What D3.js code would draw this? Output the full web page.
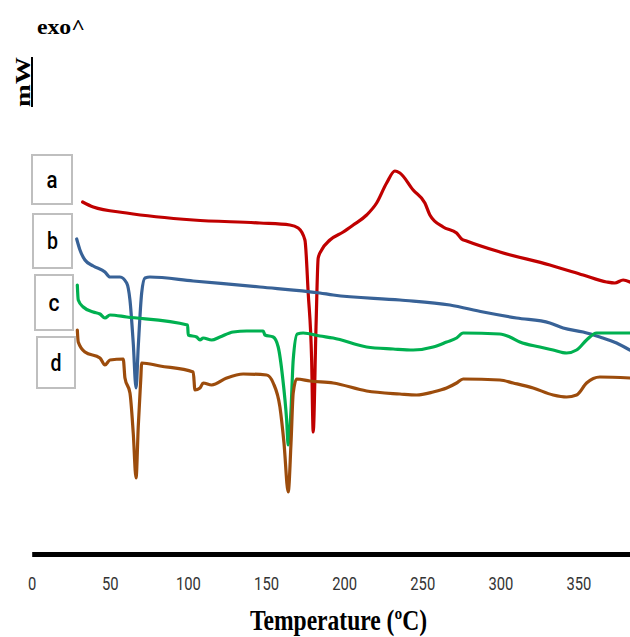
<!DOCTYPE html>
<html>
<head>
<meta charset="utf-8">
<script src="https://cdn.jsdelivr.net/npm/d3@7"></script>
<style>
  body { margin: 0; background: #fff; }
  svg { display: block; }
</style>
</head>
<body>
<svg id="chart" width="630" height="637"></svg>
<script>
// temperature (°C) and heat flow (arbitrary mW, curves offset)
const redT   = [32.6, 39.4, 60.8, 103.4, 146.1, 165.3, 170.6, 174.9, 177.0, 179.2, 180.2, 182.0, 183.4, 185.6, 190.9, 199.4, 205.8, 214.4, 220.8, 227.2, 232.5, 235.7, 244.2, 251.7, 254.9, 263.4, 272.0, 275.2, 278.4, 299.7, 331.7, 353.0, 368.0, 373.3, 378.6, 382.9];
const redY   = [35.1, 34.6, 34.0, 33.3, 33.0, 32.8, 32.5, 31.3, 26.0, 19.3, 12.1, 22.6, 29.5, 30.3, 31.3, 32.1, 32.8, 33.8, 35.0, 37.0, 38.2, 38.0, 36.3, 35.0, 33.8, 32.6, 32.0, 31.4, 31.2, 30.1, 28.8, 27.8, 27.1, 27.0, 27.3, 27.1];

const blueT  = [28.8, 30.9, 34.1, 39.4, 46.9, 50.1, 56.5, 60.8, 62.9, 65.0, 66.8, 68.2, 70.4, 72.5, 75.7, 103.4, 146.1, 184.5, 193.0, 235.7, 267.7, 289.0, 310.4, 331.7, 340.2, 353.0, 363.7, 374.4, 382.9];
const blueY  = [31.4, 30.3, 29.3, 28.7, 28.1, 27.6, 27.6, 27.0, 25.3, 21.0, 16.5, 20.6, 26.0, 27.5, 27.6, 27.2, 26.6, 26.0, 25.8, 25.3, 24.8, 24.1, 23.5, 23.0, 22.5, 22.1, 21.6, 21.0, 20.3];

const greenT = [29.2, 29.8, 33.0, 39.4, 43.7, 46.9, 50.1, 60.8, 99.8, 100.2, 105.6, 107.7, 109.8, 115.2, 120.5, 129.0, 137.6, 148.2, 149.3, 154.6, 157.8, 160.6, 163.2, 164.2, 166.0, 167.4, 170.0, 173.8, 184.5, 193.0, 214.4, 231.4, 244.2, 257.0, 265.6, 272.0, 276.2, 299.7, 306.1, 312.5, 325.3, 333.8, 342.4, 348.8, 355.2, 361.6, 370.1, 382.9];
const greenY = [26.8, 25.3, 24.6, 24.1, 23.9, 23.5, 23.8, 23.6, 22.8, 21.8, 21.6, 21.3, 21.5, 21.3, 21.6, 22.1, 22.2, 22.2, 21.8, 21.6, 20.6, 17.6, 13.3, 10.8, 14.3, 19.3, 21.9, 22.0, 21.7, 21.5, 20.6, 20.4, 20.3, 20.6, 21.1, 21.5, 22.0, 21.9, 21.6, 21.1, 20.6, 20.3, 20.0, 20.3, 21.3, 22.0, 22.0, 22.0];

const brownT = [29.2, 29.8, 34.1, 43.7, 46.9, 50.1, 58.6, 59.7, 62.9, 65.0, 66.8, 68.2, 69.8, 70.4, 82.1, 103.4, 104.5, 107.7, 109.8, 115.2, 124.8, 135.4, 150.4, 154.6, 158.9, 161.5, 164.2, 166.0, 167.4, 169.6, 178.1, 193.0, 214.4, 235.7, 246.4, 257.0, 265.6, 272.0, 276.2, 299.7, 308.2, 321.0, 333.8, 342.4, 348.8, 355.2, 363.7, 382.9];
const brownY = [22.3, 21.1, 20.1, 19.5, 18.8, 19.3, 19.4, 17.5, 16.0, 12.0, 7.5, 12.6, 17.3, 19.0, 18.7, 18.1, 16.3, 16.5, 17.0, 16.8, 17.5, 17.9, 17.8, 17.0, 14.6, 11.0, 6.1, 11.0, 16.0, 17.4, 17.2, 17.0, 16.2, 15.9, 15.8, 16.1, 16.5, 17.0, 17.4, 17.3, 17.0, 16.5, 15.8, 15.6, 15.8, 17.0, 17.6, 17.5];

const xTicks = [0, 50, 100, 150, 200, 250, 300, 350];
const labels = ['a', 'b', 'c', 'd'];

const series = [
  { t: redT,   y: redY,   color: '#c00000' },
  { t: blueT,  y: blueY,  color: '#386297' },
  { t: greenT, y: greenY, color: '#00b050' },
  { t: brownT, y: brownY, color: '#9c4c0c' }
];

const svg = d3.select('#chart');
const axisY = 554;

const x = d3.scaleLinear().domain([0, 383]).range([31.7, 630]);
const y = d3.scaleLinear().domain([0, 40]).range([553, 153]);

// curves
const line = d3.line()
  .x(d => x(d[0]))
  .y(d => y(d[1]))
  .curve(d3.curveMonotoneX);

series.forEach(s => {
  svg.append('path')
    .datum(s.t.map((t, i) => [t, s.y[i]]))
    .attr('fill', 'none')
    .attr('stroke', s.color)
    .attr('stroke-width', 3.2)
    .attr('stroke-linejoin', 'round')
    .attr('stroke-linecap', 'round')
    .attr('d', line);
});

// x axis
const ax = svg.append('g')
  .attr('transform', `translate(0,${axisY})`)
  .call(d3.axisBottom(x).tickValues(xTicks).tickSize(0).tickPadding(23));
ax.select('.domain').attr('stroke', '#000').attr('stroke-width', 5);
ax.selectAll('.tick text')
  .attr('font-family', 'Roboto, sans-serif')
  .attr('font-size', 19)
  .attr('fill', '#333')
  .attr('textLength', d => String(d).length * 8.3)
  .attr('lengthAdjust', 'spacingAndGlyphs');

svg.append('text')
  .attr('x', 250)
  .attr('y', 630)
  .attr('font-family', '"Liberation Serif", "Times New Roman", serif')
  .attr('font-weight', 'bold')
  .attr('font-size', 29)
  .attr('textLength', 177)
  .attr('lengthAdjust', 'spacingAndGlyphs')
  .text('Temperature (ºC)');

// y label
svg.append('text')
  .attr('x', 37)
  .attr('y', 34)
  .attr('font-family', '"Liberation Serif", "Times New Roman", serif')
  .attr('font-weight', 'bold')
  .attr('font-size', 20)
  .attr('textLength', 48)
  .attr('lengthAdjust', 'spacingAndGlyphs')
  .text('exo^');

svg.append('text')
  .attr('transform', 'translate(30,82) rotate(-90)')
  .attr('text-anchor', 'middle')
  .attr('font-family', '"Liberation Serif", "Times New Roman", serif')
  .attr('font-weight', 'bold')
  .attr('font-size', 22)
  .attr('textLength', 50)
  .attr('lengthAdjust', 'spacingAndGlyphs')
  .text('mW');
svg.append('line')
  .attr('x1', 32).attr('x2', 32)
  .attr('y1', 57).attr('y2', 107)
  .attr('stroke', '#000').attr('stroke-width', 2);

// curve label boxes
const boxes = [
  { x: 32, y: 155, w: 40, h: 49 },
  { x: 33, y: 214, w: 39, h: 54 },
  { x: 35, y: 275, w: 38, h: 55 },
  { x: 37, y: 337, w: 38, h: 51 }
];
labels.forEach((l, i) => {
  const b = boxes[i];
  const g = svg.append('g');
  g.append('rect')
    .attr('x', b.x).attr('y', b.y)
    .attr('width', b.w).attr('height', b.h)
    .attr('fill', '#fff')
    .attr('stroke', '#bfbfbf')
    .attr('stroke-width', 2);
  g.append('text')
    .attr('x', b.x + b.w / 2)
    .attr('y', b.y + b.h / 2)
    .attr('dy', '0.35em')
    .attr('text-anchor', 'middle')
    .attr('font-family', 'Roboto, sans-serif')
    .attr('font-weight', 500)
    .attr('font-size', 24)
    .attr('textLength', 11)
    .attr('lengthAdjust', 'spacingAndGlyphs')
    .text(l);
});
</script>
</body>
</html>
